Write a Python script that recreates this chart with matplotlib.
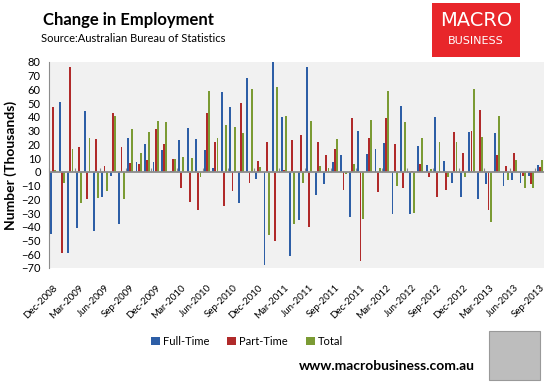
import numpy as np
import pandas as pd
import matplotlib
matplotlib.use("Agg")
import matplotlib.pyplot as plt
from matplotlib.patches import Rectangle

months = pd.date_range('2008-12-01', periods=58, freq='MS').strftime('%b-%Y').tolist()

full_time = [-45, 51, -59, -41, 44, -43, -18, -3, -38, 25, 7, 20, 7, 16, 0.3,
             23, 32, 24, 16, 3, 58, 47, -23, 68, -5, -68, 111, 40, -61, -35,
             76, -17, -9, 7, 12, -33, 30, 13, 17, 21, -31, 48, -31, 19, 5,
             40, 8, -8, -18, 29, -20, -9, 28, -10, -6, -8, -3, 5]
part_time = [47, -59, 76, 18, -20, 24, 4, 43, 18, 6.5, 6, 9, 31, 20, 9.4,
             -12, -22, -28, 43, 21.5, -25, -14, 50, -8, 8, 21.5, -50, 1, 23, 27,
             -40, 21.5, 12, 17, -13, 39, -65, 25, -14.5, 39, 20, -12, 0.5, 6, -3.6,
             -18, -13, 29, 14, 30, 45, -28, 12, 4, 14, -3, -9, 3.4]
total = [1, -8, 17, -23, 25, -19, -14, 41, -20, 31, 13.5, 29, 37, 36, 9.5,
         11, 10, -4, 59, 25, 34, 33, 28, 60, 3.6, -46, 62, 41, -38, -8,
         37, 4.6, 2.7, 24, -1.3, 6, -34, 38, 3, 59, -10, 36, -30, 25, 2.4,
         22, -4, 21.5, -3.5, 60, 25.5, -36.5, 41, -5.6, 8.5, -12, -11.5, 8.5]

series = [('Full-Time', full_time, '#2d5ea6'),
          ('Part-Time', part_time, '#b02a2a'),
          ('Total', total, '#7b9b34')]

plt.rcParams['font.family'] = ['Lato', 'DejaVu Sans']

fig = plt.figure(figsize=(5.58, 3.82), dpi=100)
ax = fig.add_axes([49/558, 1-268/382, 495/558, (268-62)/382])
ax.set_facecolor('#f1f1f1')

x = np.arange(len(months))
w = 0.25
for k, (name, vals, col) in enumerate(series):
    ax.bar(x + (k-1)*w, vals, width=0.22, color=col, label=name,
           edgecolor='none', zorder=3)

ymin, ymax = -70, 80
ax.set_ylim(ymin, ymax)
ax.set_xlim(-0.5, len(months)-0.5)
ax.set_yticks(np.arange(-70, 81, 10))
ax.tick_params(axis='y', length=0, labelsize=8, pad=6)
ax.set_xticks(x[::3])
ax.set_xticklabels(months[::3], rotation=45, ha='right', rotation_mode='anchor',
                   fontsize=7)
ax.tick_params(axis='x', length=0, pad=11)

for s in ['top', 'right', 'bottom']:
    ax.spines[s].set_visible(False)
ax.spines['left'].set_color('#8c8c8c')

# zero line with category tick marks
ax.axhline(0, color='#8c8c8c', lw=1.3, zorder=4)
sec = ax.secondary_xaxis((0 - ymin)/(ymax - ymin))
sec.set_xticks(np.arange(-0.5, len(months), 3))
sec.tick_params(direction='in', length=3, color='#8c8c8c', labelbottom=False,
                labeltop=False)
for s in sec.spines.values():
    s.set_visible(False)

ax.set_ylabel('Number (Thousands)', fontsize=10, fontweight='bold', labelpad=3)

ax.legend(loc='upper center', bbox_to_anchor=(0.4, -0.28), ncol=3, frameon=False,
          fontsize=8, handlelength=0.8, handleheight=0.8, columnspacing=1.6,
          handletextpad=0.3)

fig.text(43/558, 1-20/382, 'Change in Employment', fontsize=12, fontweight='bold',
         va='center', ha='left')
fig.text(41/558, 1-38/382, 'Source:Australian Bureau of Statistics', fontsize=8,
         va='center', ha='left')

# logo
fig.patches.append(Rectangle((432/558, 1-57/382), 88/558, 54/382,
                             transform=fig.transFigure, facecolor='#e8262a',
                             edgecolor='none'))
fig.text(476/558, 1-21/382, 'MACRO', fontsize=14, color='white', ha='center',
         va='center', family='DejaVu Sans')
fig.text(476/558, 1-41/382, 'BUSINESS', fontsize=8, color='white', ha='center',
         va='center', family='DejaVu Sans')

fig.text(475/558, 1-366/382, 'www.macrobusiness.com.au', fontsize=10,
         fontweight='bold', ha='right', va='center')
fig.patches.append(Rectangle((489/558, 1-380/382), 51/558, 49/382,
                             transform=fig.transFigure, facecolor='#bdbdbd',
                             edgecolor='#999999', lw=0.8))

fig.savefig('out.png', dpi=100)
